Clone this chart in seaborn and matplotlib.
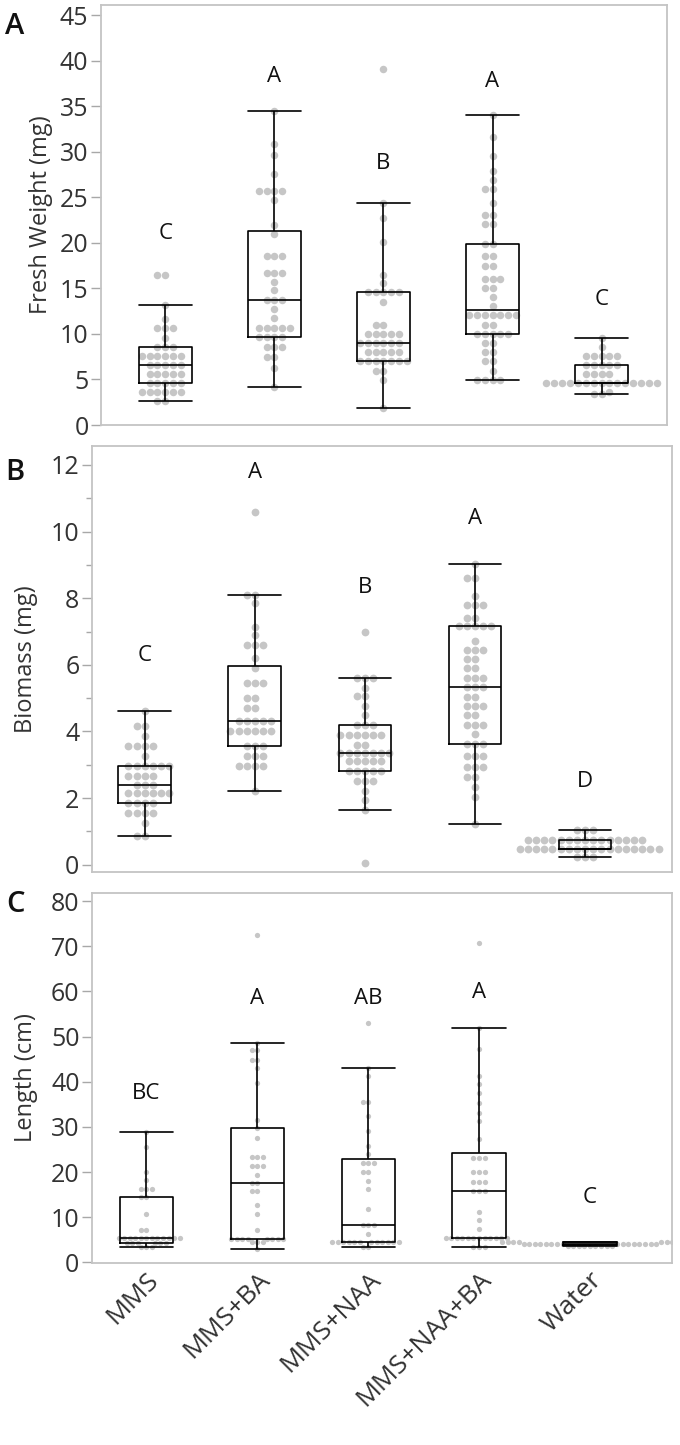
import matplotlib
matplotlib.use("Agg")
import matplotlib.pyplot as plt
import pandas as pd
import seaborn as sns
from matplotlib.ticker import MultipleLocator

GROUPS = ["MMS", "MMS+BA", "MMS+NAA", "MMS+NAA+BA", "Water"]

# Panel A - fresh weight (mg), one value per plotted dot
fw_mms = [2.6, 2.6, 3.6, 3.6, 3.6, 3.6, 3.6, 3.6, 4.6, 4.6, 4.6, 4.6, 4.6,
          5.6, 5.6, 5.6, 5.6, 5.6, 6.6, 6.6, 6.6, 6.6, 6.6, 7.6, 7.6, 7.6,
          7.6, 7.6, 7.6, 8.6, 8.6, 8.6, 9.6, 10.6, 10.6, 10.6, 11.6, 13.2,
          16.5, 16.5]
fw_ba = [4.2, 6.3, 7.5, 7.5, 8.6, 8.6, 8.6, 9.7, 9.7, 9.7, 9.7, 10.7, 10.7,
         10.7, 10.7, 10.7, 11.7, 12.7, 13.7, 13.7, 13.7, 14.8, 15.7, 16.7,
         16.7, 16.7, 18.5, 18.5, 18.5, 21.0, 22.0, 24.7, 25.7, 25.7, 25.7,
         25.7, 27.6, 29.6, 30.8, 34.5]
fw_naa = [1.9, 4.9, 5.9, 5.9, 7.0, 7.0, 7.0, 7.0, 7.0, 7.0, 7.0, 8.0, 8.0,
          8.0, 8.0, 8.0, 9.0, 9.0, 9.0, 9.0, 9.0, 9.0, 10.0, 10.0, 10.0,
          10.0, 10.0, 11.0, 11.0, 13.5, 14.6, 14.6, 14.6, 14.6, 14.6, 15.6,
          16.5, 20.1, 22.7, 24.4, 39.1]
fw_naaba = [4.9, 4.9, 4.9, 4.9, 5.9, 7.0, 7.0, 8.0, 8.0, 9.0, 9.0, 10.0,
            10.0, 10.0, 10.0, 10.0, 11.0, 11.0, 12.1, 12.1, 12.1, 12.1, 12.1,
            12.1, 12.1, 13.1, 14.0, 15.0, 15.0, 16.0, 16.0, 16.0, 17.5, 17.5,
            18.5, 18.5, 19.9, 19.9, 22.1, 22.1, 23.0, 23.0, 24.4, 25.9, 25.9,
            26.9, 27.9, 29.5, 31.6, 34.0]
fw_water = [3.4, 3.4, 3.6, 4.6, 4.6, 4.6, 4.6, 4.6, 4.6, 4.6, 4.6, 4.6, 4.6,
            4.6, 4.6, 4.6, 4.6, 4.6, 5.6, 5.6, 5.6, 5.6, 6.6, 6.6, 6.6, 6.6,
            6.6, 7.6, 7.6, 7.6, 7.6, 7.6, 8.6, 9.5]

# Panel B - biomass (mg)
bm_mms = [0.85, 0.85, 1.25, 1.55, 1.55, 1.55, 1.55, 1.85, 1.85, 1.85, 1.85,
          2.15, 2.15, 2.15, 2.15, 2.15, 2.15, 2.4, 2.4, 2.4, 2.65, 2.65,
          2.65, 2.65, 2.95, 2.95, 2.95, 2.95, 2.95, 2.95, 3.25, 3.55, 3.55,
          3.55, 3.55, 3.85, 4.15, 4.15, 4.6]
bm_ba = [2.2, 2.95, 2.95, 2.95, 2.95, 3.25, 3.25, 3.25, 3.55, 3.55, 3.55,
         4.0, 4.0, 4.0, 4.0, 4.0, 4.0, 4.3, 4.3, 4.3, 4.3, 4.3, 4.7, 4.7,
         5.0, 5.0, 5.45, 5.45, 5.45, 5.9, 6.2, 6.6, 6.6, 6.6, 6.9, 7.15,
         7.85, 8.1, 8.1, 10.6]
bm_naa = [0.05, 1.65, 1.95, 2.2, 2.5, 2.5, 2.5, 2.8, 2.8, 2.8, 2.8, 2.8,
          3.1, 3.1, 3.1, 3.1, 3.1, 3.35, 3.35, 3.35, 3.35, 3.35, 3.35, 3.35,
          3.6, 3.6, 3.9, 3.9, 3.9, 3.9, 3.9, 3.9, 4.2, 4.2, 4.2, 4.5, 4.75,
          5.05, 5.05, 5.3, 5.6, 5.6, 5.6, 7.0]
bm_naaba = [1.22, 2.04, 2.32, 2.62, 2.62, 2.92, 2.92, 2.92, 3.26, 3.26, 3.26,
            3.63, 3.63, 3.63, 3.92, 4.19, 4.19, 4.19, 4.48, 4.48, 4.76, 4.76,
            4.76, 5.03, 5.03, 5.32, 5.32, 5.32, 5.6, 5.6, 5.6, 5.89, 5.89,
            6.17, 6.17, 6.45, 6.45, 6.45, 6.72, 7.16, 7.16, 7.16, 7.16, 7.16,
            7.42, 7.42, 7.79, 7.79, 7.79, 8.07, 8.6, 8.6, 9.03]
bm_water = [0.22, 0.22, 0.22, 0.48, 0.48, 0.48, 0.48, 0.48, 0.48, 0.48, 0.48,
            0.48, 0.48, 0.48, 0.48, 0.48, 0.48, 0.48, 0.48, 0.48, 0.48, 0.75,
            0.75, 0.75, 0.75, 0.75, 0.75, 0.75, 0.75, 0.75, 0.75, 0.75, 0.75,
            0.75, 0.75, 0.75, 1.03, 1.03, 1.03]

# Panel C - length (cm)
ln_mms = [3.3, 3.3, 3.3, 4.3, 4.3, 4.3, 4.3, 4.3, 4.3, 5.4, 5.4, 5.4, 5.4,
          5.4, 5.4, 5.4, 5.4, 5.4, 5.4, 5.4, 5.4, 7.2, 7.2, 10.8, 14.4, 14.4,
          16.2, 16.2, 16.2, 18.2, 20.0, 25.5, 28.8]
ln_ba = [3.0, 4.4, 4.4, 4.4, 5.2, 5.2, 5.2, 5.2, 5.2, 5.2, 5.2, 5.2, 7.1,
         10.7, 12.6, 15.7, 15.7, 17.6, 17.6, 19.4, 21.4, 21.4, 21.4, 23.3,
         23.3, 23.3, 27.5, 29.8, 31.6, 39.7, 43.1, 44.9, 44.9, 47.0, 47.0,
         48.6, 72.4]
ln_naa = [3.4, 3.4, 4.4, 4.4, 4.4, 4.4, 4.4, 4.4, 4.4, 4.4, 4.4, 4.4, 4.4,
          4.4, 6.3, 8.3, 8.3, 8.3, 11.8, 16.2, 18.1, 19.9, 19.9, 22.0, 22.0,
          22.0, 23.9, 25.7, 29.0, 32.3, 35.5, 35.5, 41.2, 43.1, 53.0]
ln_naaba = [3.5, 3.5, 3.5, 5.4, 5.4, 5.4, 5.4, 5.4, 5.4, 5.4, 5.4, 5.4, 5.4,
            5.4, 5.4, 7.4, 9.3, 11.1, 15.8, 15.8, 15.8, 17.9, 17.9, 17.9,
            20.0, 20.0, 20.0, 23.1, 23.1, 23.1, 27.3, 31.3, 33.1, 35.3, 37.6,
            39.5, 41.2, 47.2, 52.0, 70.8]
ln_water = [3.7, 3.7, 3.7, 3.7, 3.7, 3.7, 3.7, 3.7, 3.7, 4.1, 4.1, 4.1, 4.1,
            4.1, 4.1, 4.1, 4.1, 4.1, 4.1, 4.1, 4.1, 4.1, 4.1, 4.1, 4.1, 4.6,
            4.6, 4.6, 4.6, 4.6, 4.6, 4.6, 4.6, 4.6]

# significance letters and their heights
fw_letters = ["C", "A", "B", "A", "C"]
fw_letter_y = [21.0, 38.3, 28.7, 37.7, 13.8]
bm_letters = ["C", "A", "B", "A", "D"]
bm_letter_y = [6.27, 11.78, 8.32, 10.4, 2.5]
ln_letters = ["BC", "A", "AB", "A", "C"]
ln_letter_y = [37.5, 58.4, 58.4, 59.7, 14.3]

# group centres on a numeric axis (half-unit spacing gives the swarms room)
POS = [0.0, 0.5, 1.0, 1.5, 2.0]
BOX_W = 0.48
DOT = "#c6c6c6"
FRAME = "#c4c4c4"
TEXT = "#333333"

sns.set_theme(style="white")
plt.rcParams["font.family"] = ["Open Sans", "DejaVu Sans"]

PANELS = [
    dict(rect=[101 / 680, 1 - 425 / 1445, 566 / 680, 420 / 1445],
         data=[fw_mms, fw_ba, fw_naa, fw_naaba, fw_water],
         letters=fw_letters, letter_y=fw_letter_y, ylim=(0, 46.1), step=5,
         minor=None, ylabel="Fresh Weight (mg)", pad=5, xlim=(-0.295, 2.3),
         dot=5.4, tag="A", tag_y=26),
    dict(rect=[92 / 680, 1 - 872 / 1445, 580 / 680, 426 / 1445],
         data=[bm_mms, bm_ba, bm_naa, bm_naaba, bm_water],
         letters=bm_letters, letter_y=bm_letter_y, ylim=(-0.22, 12.57), step=2,
         minor=1, ylabel="Biomass (mg)", pad=9, xlim=(-0.24, 2.395),
         dot=5.6, tag="B", tag_y=472),
    dict(rect=[92 / 680, 1 - 1263 / 1445, 580 / 680, 370 / 1445],
         data=[ln_mms, ln_ba, ln_naa, ln_naaba, ln_water],
         letters=ln_letters, letter_y=ln_letter_y, ylim=(-0.15, 81.8), step=10,
         minor=None, ylabel="Length (cm)", pad=9, xlim=(-0.245, 2.37),
         dot=3.8, tag="C", tag_y=904),
]

fig = plt.figure(figsize=(6.8, 14.45), dpi=100)

for i, p in enumerate(PANELS):
    ax = fig.add_axes(p["rect"])
    for pos, vals in zip(POS, p["data"]):
        sns.swarmplot(x=[pos] * len(vals), y=vals, native_scale=True, orient="x",
                      color=DOT, size=p["dot"], linewidth=0, ax=ax, zorder=1)
    df = pd.DataFrame({
        "pos": [pos for pos, vals in zip(POS, p["data"]) for _ in vals],
        "value": [v for vals in p["data"] for v in vals],
    })
    sns.boxplot(data=df, x="pos", y="value", native_scale=True, fill=False,
                color="black", width=BOX_W, showfliers=False, linewidth=1.2,
                ax=ax)
    # caps as wide as the boxes, like the original
    half = BOX_W * 0.5 * 0.5
    for ln in ax.lines:
        xd, yd = ln.get_xdata(), ln.get_ydata()
        if len(xd) == 2 and yd[0] == yd[1] and xd[0] != xd[1]:
            c = (xd[0] + xd[1]) / 2
            ln.set_xdata([c - half, c + half])

    for pos, lab, y in zip(POS, p["letters"], p["letter_y"]):
        ax.text(pos, y, lab, ha="center", va="center", fontsize=16, color="#111111")

    ax.set_xlim(p["xlim"])
    ax.set_ylim(p["ylim"])
    ax.yaxis.set_major_locator(MultipleLocator(p["step"]))
    if p["minor"]:
        ax.yaxis.set_minor_locator(MultipleLocator(p["minor"]))
    ax.set_xticks(POS)
    ax.set_xlabel("")
    ax.set_ylabel(p["ylabel"], fontsize=17, color=TEXT, labelpad=p["pad"])
    ax.tick_params(axis="y", which="major", direction="out", length=7, width=1,
                   color="#a8a8a8", labelsize=18, labelcolor=TEXT, pad=2, left=True)
    ax.tick_params(axis="y", which="minor", direction="out", length=4, width=1,
                   color="#a8a8a8", left=True)
    ax.tick_params(axis="x", length=0)
    if i == 2:
        ax.set_xticklabels(GROUPS, rotation=45, ha="right", va="top",
                           rotation_mode="anchor", fontsize=19, color=TEXT)
        ax.tick_params(axis="x", pad=3)
    else:
        ax.set_xticklabels([])
    for sp in ax.spines.values():
        sp.set_visible(True)
        sp.set_color(FRAME)
        sp.set_linewidth(1.3)
    fig.text(15 / 680, 1 - p["tag_y"] / 1445, p["tag"], ha="center", va="center",
             fontsize=21, fontweight="semibold", color="#111111")

fig.savefig("out.png", dpi=100)
